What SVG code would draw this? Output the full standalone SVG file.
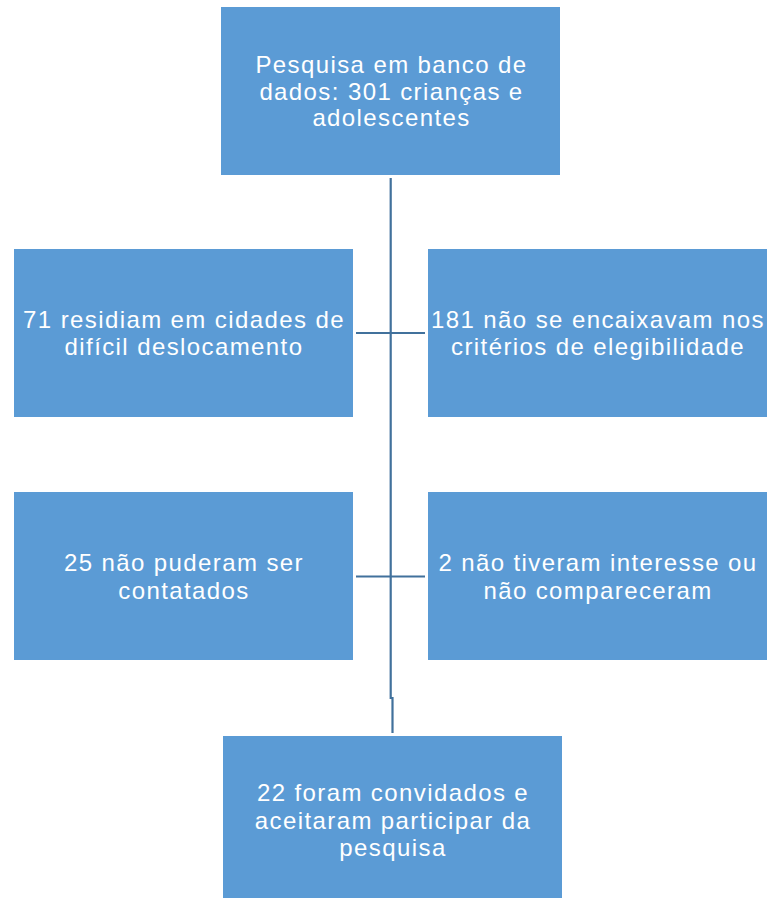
<svg xmlns="http://www.w3.org/2000/svg" width="767" height="898" viewBox="0 0 767 898">
<style>
.box{fill:#5B9BD5;}
.t{font-family:"Liberation Sans",Arial,sans-serif;font-size:24px;letter-spacing:1.4px;fill:#FFFFFF;text-anchor:middle;}
.c{stroke:#41719C;stroke-width:2.2;fill:none;}
</style>
<rect width="767" height="898" fill="#FFFFFF"/>
<g id="connectors">
<path class="c" d="M390.7 178 V698 H392.5 V733"/>
<path class="c" d="M356 333 H425"/>
<path class="c" d="M356 576.5 H425"/>
</g>
<g id="n1"><rect class="box" x="221" y="7" width="339" height="168"/>
<text class="t" x="391.5" y="73">Pesquisa em banco de</text>
<text class="t" x="391.5" y="99.5">dados: 301 crianças e</text>
<text class="t" x="391.5" y="126">adolescentes</text></g>
<g id="n2"><rect class="box" x="14" y="249" width="339" height="168"/>
<text class="t" x="184" y="327.5">71 residiam em cidades de</text>
<text class="t" x="184" y="355">difícil deslocamento</text></g>
<g id="n3"><rect class="box" x="428" y="249" width="339" height="168"/>
<text class="t" x="598" y="327.5">181 não se encaixavam nos</text>
<text class="t" x="598" y="355">critérios de elegibilidade</text></g>
<g id="n4"><rect class="box" x="14" y="492" width="339" height="168"/>
<text class="t" x="184" y="571">25 não puderam ser</text>
<text class="t" x="184" y="598.5">contatados</text></g>
<g id="n5"><rect class="box" x="428" y="492" width="339" height="168"/>
<text class="t" x="598" y="571">2 não tiveram interesse ou</text>
<text class="t" x="598" y="598.5">não compareceram</text></g>
<g id="n6"><rect class="box" x="223" y="736" width="339" height="162"/>
<text class="t" x="393" y="801">22 foram convidados e</text>
<text class="t" x="393" y="828.5">aceitaram participar da</text>
<text class="t" x="393" y="856">pesquisa</text></g>
</svg>
